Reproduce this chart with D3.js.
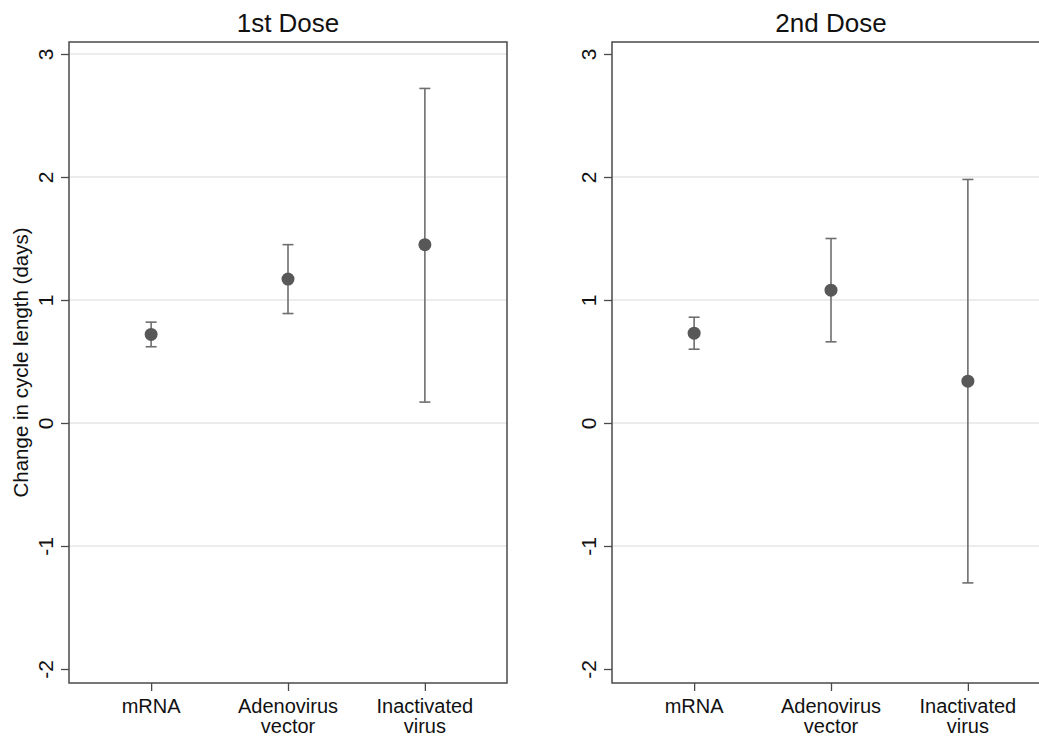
<!DOCTYPE html>
<html>
<head>
<meta charset="utf-8">
<script src="https://cdn.jsdelivr.net/npm/d3@7"></script>
<style>
  body { margin: 0; background: #fff; }
  svg { display: block; font-family: "Liberation Sans", Arial, Helvetica, sans-serif; }
</style>
</head>
<body>
<div id="chart"></div>
<script>
// categories and values
let vaccineTypes = ["mRNA", "Adenovirus vector", "Inactivated virus"];
let vaccineLabels = [["mRNA"], ["Adenovirus", "vector"], ["Inactivated", "virus"]];

let panelTitles = ["1st Dose", "2nd Dose"];

let dose1Est = [0.72, 1.17, 1.45];
let dose1Lo = [0.62, 0.89, 0.17];
let dose1Hi = [0.82, 1.45, 2.72];

let dose2Est = [0.73, 1.08, 0.34];
let dose2Lo = [0.60, 0.66, -1.30];
let dose2Hi = [0.86, 1.50, 1.98];

let yTicks = [-2, -1, 0, 1, 2, 3];

let width = 1039;
let height = 740;

var svg = d3.select("#chart")
    .append("svg")
    .attr("width", width)
    .attr("height", height);

// shared y scale
var y = d3.scaleLinear()
    .domain([-2, 3])
    .range([669, 54]);

var plotTop = 42;
var plotBottom = 683;
var plotWidth = 438;

function drawPanel(left, title, est, lo, hi, gridTicks) {
    var right = left + plotWidth;
    var g = svg.append("g");

    var x = d3.scalePoint()
        .domain(vaccineTypes)
        .range([left, right])
        .padding(0.6);

    // gridlines
    g.selectAll("line.grid")
        .data(gridTicks)
        .enter()
        .append("line")
        .attr("class", "grid")
        .attr("x1", left)
        .attr("x2", right)
        .attr("y1", d => y(d))
        .attr("y2", d => y(d))
        .attr("stroke", "#e6e6e6")
        .attr("stroke-width", 1.5);

    // frame
    g.append("rect")
        .attr("x", left)
        .attr("y", plotTop)
        .attr("width", plotWidth)
        .attr("height", plotBottom - plotTop)
        .attr("fill", "none")
        .attr("stroke", "#4a4a4a")
        .attr("stroke-width", 1.5);

    // y axis
    var yAxis = g.append("g")
        .attr("transform", "translate(" + left + ",0)")
        .call(d3.axisLeft(y).tickValues(yTicks).tickSize(8).tickFormat(d => String(d)));
    yAxis.select(".domain").remove();
    yAxis.selectAll(".tick line").attr("stroke", "#4a4a4a").attr("stroke-width", 1.3);
    yAxis.selectAll(".tick text")
        .attr("x", 0)
        .attr("dy", 0)
        .attr("transform", "translate(-16,0) rotate(-90)")
        .attr("text-anchor", "middle")
        .style("font-size", "21px")
        .style("font-family", "Liberation Sans, Arial, sans-serif")
        .attr("fill", "#111");

    // x axis
    var xAxis = g.append("g")
        .attr("transform", "translate(0," + plotBottom + ")")
        .call(d3.axisBottom(x).tickSize(8).tickFormat(""));
    xAxis.select(".domain").remove();
    xAxis.selectAll(".tick line").attr("stroke", "#4a4a4a").attr("stroke-width", 1.3);

    g.selectAll("text.xlab")
        .data(vaccineTypes)
        .enter()
        .append("text")
        .attr("class", "xlab")
        .attr("x", d => x(d))
        .attr("y", 713)
        .attr("text-anchor", "middle")
        .attr("font-size", 20)
        .attr("fill", "#111")
        .selectAll("tspan")
        .data((d, i) => vaccineLabels[i])
        .enter()
        .append("tspan")
        .attr("x", function () { return d3.select(this.parentNode).attr("x"); })
        .attr("dy", (d, i) => i === 0 ? 0 : 20)
        .text(d => d);

    // title
    g.append("text")
        .attr("x", (left + right) / 2)
        .attr("y", 32)
        .attr("text-anchor", "middle")
        .attr("font-size", 26)
        .attr("fill", "#111")
        .text(title);

    var rows = vaccineTypes.map((c, i) => ({ cat: c, est: est[i], lo: lo[i], hi: hi[i] }));

    // error bars
    g.selectAll("line.bar")
        .data(rows)
        .enter()
        .append("line")
        .attr("class", "bar")
        .attr("x1", d => x(d.cat))
        .attr("x2", d => x(d.cat))
        .attr("y1", d => y(d.lo))
        .attr("y2", d => y(d.hi))
        .attr("stroke", "#6e6e6e")
        .attr("stroke-width", 1.6);

    ["lo", "hi"].forEach(function (k) {
        g.selectAll("line.cap" + k)
            .data(rows)
            .enter()
            .append("line")
            .attr("x1", d => x(d.cat) - 5.5)
            .attr("x2", d => x(d.cat) + 5.5)
            .attr("y1", d => y(d[k]))
            .attr("y2", d => y(d[k]))
            .attr("stroke", "#6e6e6e")
            .attr("stroke-width", 1.6);
    });

    // point estimates
    g.selectAll("circle")
        .data(rows)
        .enter()
        .append("circle")
        .attr("cx", d => x(d.cat))
        .attr("cy", d => y(d.est))
        .attr("r", 6.5)
        .attr("fill", "#585858");
}

drawPanel(69, panelTitles[0], dose1Est, dose1Lo, dose1Hi, [-1, 0, 1, 2, 3]);
drawPanel(612, panelTitles[1], dose2Est, dose2Lo, dose2Hi, [-1, 0, 1, 2]);

// y axis title
svg.append("text")
    .attr("transform", "translate(28," + ((plotTop + plotBottom) / 2) + ") rotate(-90)")
    .attr("text-anchor", "middle")
    .attr("font-size", 20.5)
    .attr("fill", "#111")
    .text("Change in cycle length (days)");
</script>
</body>
</html>
